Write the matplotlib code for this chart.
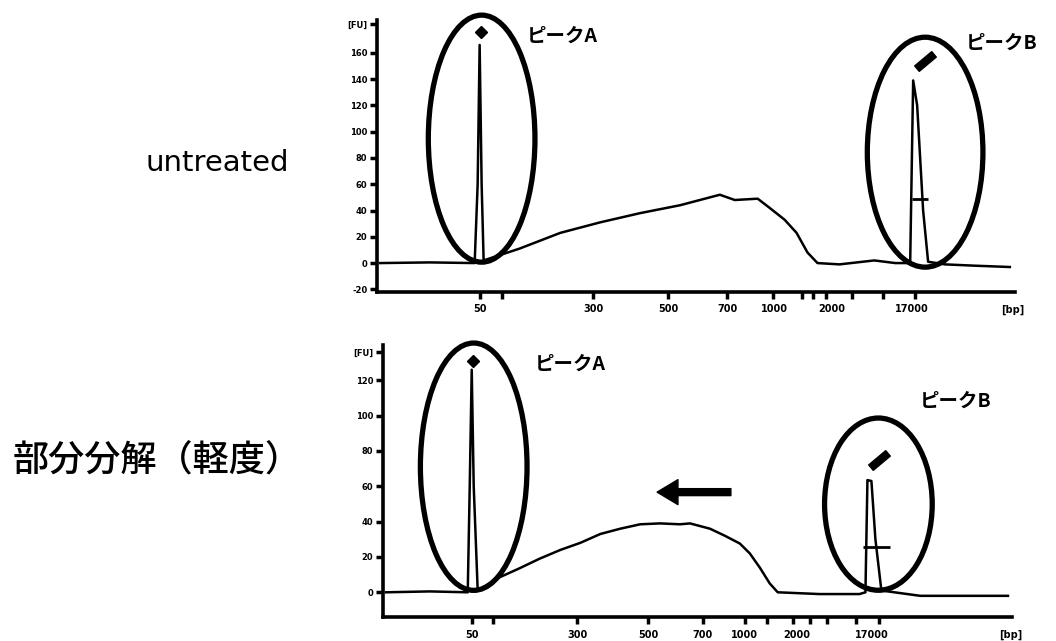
import matplotlib
matplotlib.use("Agg")
import matplotlib.pyplot as plt
from matplotlib.patches import Ellipse
from matplotlib.markers import MarkerStyle
from matplotlib.transforms import Affine2D
from matplotlib.path import Path

plt.rcParams['font.family'] = ['Noto Sans CJK JP', 'DejaVu Sans']

# ---- data: electropherograms (migration time [s] vs fluorescence [FU]) ----
# untreated
t_top = [20.3, 25.3, 29.8, 30.1, 30.3, 30.5, 30.7, 34.3, 38.4, 42.4, 46.4, 50.4,
         52.4, 54.4, 55.9, 58.2, 59.4, 60.9, 62.1, 63.2, 64.2, 66.4, 69.9, 72.0,
         73.5, 73.8, 74.2, 74.8, 75.3, 77.0, 80.0, 83.5]
fu_top = [0, 0.5, 0, 60, 166, 60, 2, 11, 23, 31, 38, 44,
          48, 52, 48, 49, 42, 33, 23, 8, 0, -1, 2, 0,
          0, 139, 120, 40, 1, -1, -2, -3]

# partial degradation (mild)
t_bot = [20.3, 24.7, 28.5, 28.7, 28.9, 29.1, 29.5, 31.7, 33.7, 35.7, 37.8, 39.8,
         41.8, 43.8, 45.8, 47.8, 49.8, 50.8, 52.8, 54.3, 55.8, 56.8, 57.8, 58.8,
         59.6, 63.8, 67.8, 68.4, 68.6, 69.0, 69.4, 70.0, 73.9, 78.9, 82.7]
fu_bot = [0, 0.5, 0, 60, 126, 60, 1, 8.5, 13.6, 19, 24, 28,
          33, 36, 38.5, 39, 38.5, 39, 36, 32, 27.6, 22, 14, 5,
          0, -1, -1, 0, 63.5, 63, 30, 1, -2, -2, -2]

# peak markers (A = lower marker, B = upper marker)
peakA_top = (30.4, 176)
peakB_top = (75.0, 154)
peakA_bot = (29.0, 131)
peakB_bot = (69.8, 75)
# region bars at upper marker (start, end, FU)
barB_top = (73.7, 75.3, 49)
barB_bot = (68.2, 70.9, 25.5)

# axis ticks
bp_labels = ['50', '300', '500', '700', '1000', '2000', '17000', '[bp]']
bp_pos_top = [30.3, 41.7, 49.2, 55.2, 59.9, 65.6, 73.7, 83.8]
bp_minor_top = [30.3, 32.5, 41.7, 49.2, 55.1, 59.7, 62.6, 63.7, 65.1, 67.7, 70.8, 74.0]
bp_pos_bot = [28.9, 39.5, 46.6, 52.1, 56.3, 61.5, 69.0, 83.0]
bp_minor_bot = [28.9, 31.0, 39.5, 46.6, 52.1, 56.3, 58.5, 61.1, 62.8, 64.5, 67.5, 69.8]
fu_ticks_top = [-20, 0, 20, 40, 60, 80, 100, 120, 140, 160, 182]
fu_labels_top = ['-20', '0', '20', '40', '60', '80', '100', '120', '140', '160', '[FU]']
fu_ticks_bot = [0, 20, 40, 60, 80, 100, 120, 136]
fu_labels_bot = ['0', '20', '40', '60', '80', '100', '120', '[FU]']

# ellipses around the peaks: (center t, center FU, width s, height FU)
ellA_top = (30.5, 94.7, 10.7, 188)
ellB_top = (75.0, 84.4, 11.6, 175)
ellA_bot = (29.1, 71.1, 10.7, 140)
ellB_bot = (69.7, 49.9, 10.8, 97.5)

fig = plt.figure(figsize=(10.56, 6.41), dpi=100)
ax1 = fig.add_axes([0.357, 0.5445, 0.604, 0.4243])
ax2 = fig.add_axes([0.3627, 0.0374, 0.5956, 0.4244])

rect = Path([(-1, -0.32), (1, -0.32), (1, 0.32), (-1, 0.32), (-1, -0.32)],
            [Path.MOVETO, Path.LINETO, Path.LINETO, Path.LINETO, Path.CLOSEPOLY])
bmark = MarkerStyle(rect, transform=Affine2D().rotate_deg(40))


def setup(ax, xlim, ylim, pos, minor, yt, ytl):
    ax.set_xlim(*xlim)
    ax.set_ylim(*ylim)
    for s in ['top', 'right']:
        ax.spines[s].set_visible(False)
    for s in ['left', 'bottom']:
        ax.spines[s].set_linewidth(2.6)
    ax.xaxis.remove_overlapping_locs = False
    ax.set_xticks(pos)
    ax.set_xticklabels(bp_labels, fontsize=7, fontweight='bold', family='DejaVu Sans')
    ax.set_xticks(minor, minor=True)
    ax.tick_params(axis='x', which='major', length=0, pad=9)
    ax.tick_params(axis='x', which='minor', length=5, width=2.5, direction='out')
    ax.set_yticks(yt)
    ax.set_yticklabels(ytl, fontsize=6, fontweight='bold', family='DejaVu Sans')
    ax.tick_params(axis='y', length=5, width=2.5, pad=2)


setup(ax1, (20, 84), (-22, 185), bp_pos_top, bp_minor_top, fu_ticks_top, fu_labels_top)
setup(ax2, (20, 83.1), (-14, 140), bp_pos_bot, bp_minor_bot, fu_ticks_bot, fu_labels_bot)

ax1.plot(t_top, fu_top, color='black', lw=1.8)
ax2.plot(t_bot, fu_bot, color='black', lw=1.8)

for ax, pa, pb, bar in [(ax1, peakA_top, peakB_top, barB_top),
                        (ax2, peakA_bot, peakB_bot, barB_bot)]:
    ax.plot(*pa, marker='D', ms=6, color='black', clip_on=False)
    ax.plot(*pb, marker=bmark, ms=16, color='black', clip_on=False)
    ax.hlines(bar[2], bar[0], bar[1], color='black', lw=2)

for ax, e in [(ax1, ellA_top), (ax1, ellB_top), (ax2, ellA_bot), (ax2, ellB_bot)]:
    ax.add_patch(Ellipse((e[0], e[1]), e[2], e[3], fill=False, ec='black',
                         lw=3.8, clip_on=False))

# shift arrow
ax2.annotate('', xy=(47.5, 56.7), xytext=(54.9, 56.7),
             arrowprops=dict(arrowstyle='simple,head_length=1.5,head_width=1.8,tail_width=0.5',
                             mutation_scale=10, color='black', shrinkA=0, shrinkB=0))

lab = dict(fontsize=14, fontweight='bold', ha='center', va='center')
ax1.text(38.6, 173, 'ピークA', **lab)
ax1.text(82.7, 167, 'ピークB', **lab)
ax2.text(38.8, 129, 'ピークA', **lab)
ax2.text(77.5, 108, 'ピークB', **lab)

fig.text(217 / 1056, 1 - 163 / 641, 'untreated', fontsize=21, ha='center', va='center',
         family='DejaVu Sans', fontweight='medium')
fig.text(157 / 1056, 1 - 461 / 641, '部分分解（軽度）', fontsize=26, ha='center', va='center',
         fontweight='medium')

fig.savefig('out.png', dpi=100)
